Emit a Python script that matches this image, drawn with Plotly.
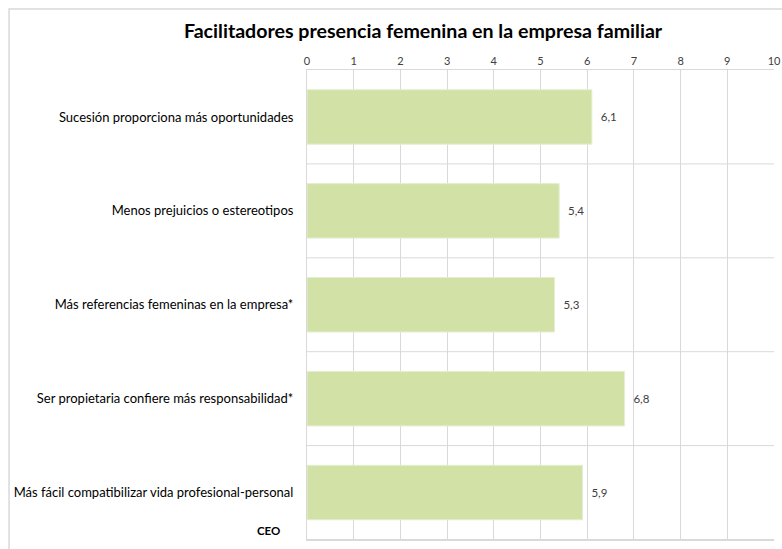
import plotly.graph_objects as go

# Data
categorias = [
    "Sucesión proporciona más oportunidades",
    "Menos prejuicios o estereotipos",
    "Más referencias femeninas en la empresa*",
    "Ser propietaria confiere más responsabilidad*",
    "Más fácil compatibilizar vida profesional-personal",
]
valores = [6.1, 5.4, 5.3, 6.8, 5.9]
ticks_x = list(range(0, 11))

verde = "#D2E2A6"
gris = "#D9D9D9"

fig = go.Figure()
fig.add_trace(go.Bar(
    x=valores,
    y=categorias,
    orientation="h",
    marker=dict(color=verde, line=dict(color="#E4EED0", width=1)),
    text=valores,
    texttemplate="  %{x:.1f}",
    textposition="outside",
    textfont=dict(size=11.5, color="#404040", family="Lato"),
    cliponaxis=False,
    hoverinfo="skip",
))

# Horizontal separators between categories
shapes = []
for i in range(len(categorias)):
    shapes.append(dict(type="line", xref="paper", yref="y", x0=0, x1=1,
                       y0=i + 0.5, y1=i + 0.5, line=dict(color=gris, width=1)))
# Outer chart border
shapes.append(dict(type="rect", xref="paper", yref="paper", x0=-0.638, x1=1.2,
                   y0=-0.2, y1=1.13, line=dict(color=gris, width=1.5), layer="below"))

fig.update_layout(
    width=782, height=549,
    margin=dict(l=307, r=8, t=70, b=9),
    plot_bgcolor="white",
    paper_bgcolor="white",
    separators=",.",
    bargap=0.42,
    showlegend=False,
    font=dict(family="Lato", color="#000000"),
    title=dict(text="<b>Facilitadores presencia femenina en la empresa familiar</b>",
               x=0.541, xanchor="center", xref="container", y=0.944, yanchor="middle",
               font=dict(size=19.6, color="#000000", family="Lato")),
    shapes=shapes,
    annotations=[dict(text="<b>CEO</b>", xref="paper", yref="paper", x=-0.053, y=0.02,
                      xanchor="right", yanchor="middle", showarrow=False,
                      font=dict(size=11.5, family="Lato", color="#000000"))],
)
fig.update_xaxes(
    range=[0, 10], side="top", tickvals=ticks_x,
    showgrid=True, gridcolor=gris, gridwidth=1,
    showline=True, linecolor=gris, mirror=True,
    tickfont=dict(size=11, color="#404040", family="Lato"),
    zeroline=False, ticks="", automargin=False,
)
fig.update_yaxes(
    autorange="reversed", showgrid=False,
    showline=True, linecolor=gris, mirror=False,
    tickfont=dict(size=13, color="#000000", family="Lato"),
    ticks="", ticklabelstandoff=10, automargin=False,
)

# drop the default page margin so the figure fills the window
fig.write_html("out.html", config={"displayModeBar": False},
               post_script="document.body.style.margin='0';document.body.style.overflow='hidden';")
